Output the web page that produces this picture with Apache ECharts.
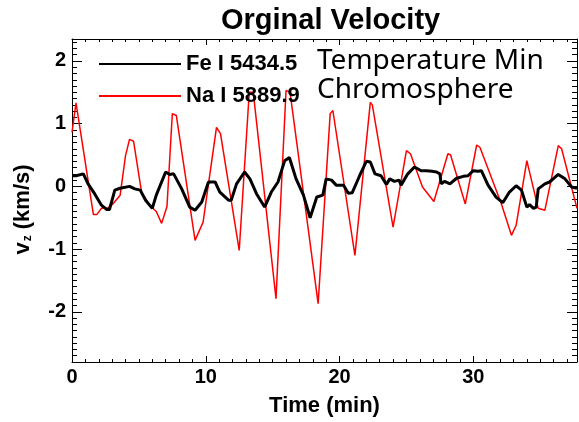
<!DOCTYPE html>
<html>
<head>
<meta charset="utf-8">
<script src="https://cdn.jsdelivr.net/npm/echarts@6/dist/echarts.min.js"></script>
<style>html,body{margin:0;padding:0;background:#fff}#c{width:579px;height:422px}</style>
</head>
<body>
<div id="c"></div>
<script>
// ---- data ----
const feTime = [0,0.3,0.85,1.2,1.7,2.2,2.6,2.8,3.2,3.6,4.3,4.7,5.1,5.5,6.0,6.3,7.0,7.3,7.6,8.2,8.8,9.2,9.7,10.2,10.7,11.05,11.7,11.9,12.3,12.9,13.3,13.8,14.4,14.9,15.4,15.9,16.25,16.75,17.3,17.8,18.3,18.75,19.0,19.4,19.75,20.3,20.65,20.95,21.5,22.0,22.3,22.65,23.1,23.5,23.75,24.1,24.45,24.6,25.1,25.6,26.1,26.5,26.9,27.25,27.5,27.6,27.85,28.25,28.75,29.25,29.6,30.0,30.35,30.6,31.1,31.7,32.2,32.7,33.2,33.6,34.0,34.2,34.5,34.7,34.85,35.35,35.7,36.35,36.85,37.35,37.75];
const feVel  = [0.17,0.17,0.20,0.04,-0.12,-0.30,-0.37,-0.37,-0.06,-0.03,0.00,-0.04,-0.06,-0.22,-0.35,-0.14,0.23,0.19,0.20,-0.04,-0.33,-0.38,-0.25,0.07,0.07,-0.09,-0.22,-0.22,0.04,0.23,0.12,-0.12,-0.33,-0.09,0.07,0.41,0.46,0.12,-0.14,-0.50,-0.17,-0.14,0.12,0.10,0.02,0.02,-0.11,-0.10,0.17,0.40,0.39,0.20,0.17,0.03,0.12,0.08,0.10,0.02,0.20,0.31,0.25,0.25,0.24,0.23,0.20,0.04,0.08,0.04,0.13,0.16,0.17,0.25,0.24,0.25,0.02,-0.17,-0.26,-0.09,0.01,-0.06,-0.33,-0.29,-0.35,-0.33,-0.04,0.04,0.07,0.19,0.12,-0.01,-0.03];
const naTime = [0,0.3,1.6,1.85,2.2,2.7,3.1,3.6,4.0,4.3,4.6,5.2,5.8,6.3,6.7,7.1,7.5,7.8,9.2,9.8,10.8,11.1,12.5,13.25,13.55,15.25,16.0,16.3,18.4,19.3,19.5,21.15,22.3,22.45,24.0,25.0,25.3,26.2,27.05,28.1,28.3,29.4,30.25,30.5,32.1,32.85,33.2,34.0,34.85,35.35,36.35,36.6,37.75];
const naVel  = [0.86,1.33,-0.45,-0.45,-0.35,-0.34,-0.27,-0.14,0.49,0.75,0.72,-0.09,-0.30,-0.40,-0.59,-0.32,1.16,1.13,-0.86,-0.57,0.94,0.84,-1.02,1.50,1.50,-1.79,1.53,1.50,-1.87,1.16,1.21,-1.10,1.34,1.30,-0.65,0.57,0.52,-0.01,-0.24,0.52,0.50,-0.28,0.66,0.62,-0.28,-0.78,-0.62,0.41,-0.35,-0.38,0.65,0.60,-0.35];
const seriesNames = ['Fe I 5434.5', 'Na I 5889.9'];
const yMajorTicks = [-2, -1, 0, 1, 2];
const xRange = [0, 37.75];
const yRange = [-2.8, 2.35];
const titleText = 'Orginal Velocity';
const annotations = ['Temperature Min', 'Chromosphere'];

const zip = (a, b) => a.map((t, i) => [t, b[i]]);
const FONT = 'Liberation Sans, Arial, sans-serif';
const axisLine = { show: true, onZero: false, lineStyle: { color: '#000', width: 1 } };

function yAxisPair(pos, withLabels) {
  return [
    {
      type: 'value', position: pos, min: yRange[0], max: yRange[1], interval: 0.1,
      axisLine: axisLine, splitLine: { show: false },
      axisTick: { show: true, inside: true, length: 5, lineStyle: { color: '#000' } },
      axisLabel: withLabels ? {
        show: true, margin: 6, color: '#000', fontWeight: 'bold', fontSize: 20, fontFamily: FONT,
        showMinLabel: false, showMaxLabel: false,
        formatter: v => Math.abs(v - Math.round(v)) < 1e-6 ? String(Math.round(v)) : ''
      } : { show: false },
      name: withLabels ? '{v|v}{s|z}{t| (km/s)}' : '',
      nameLocation: 'middle', nameGap: 38, nameRotate: 90,
      nameTextStyle: {
        color: '#000', fontWeight: 'bold', fontSize: 22, fontFamily: FONT,
        padding: [0, 18, 0, 0],
        rich: {
          v: { fontSize: 22, fontWeight: 'bold', fontFamily: FONT, color: '#000' },
          s: { fontSize: 12, fontWeight: 'bold', fontFamily: FONT, color: '#000', verticalAlign: 'bottom', padding: [10, 0, 0, 1] },
          t: { fontSize: 22, fontWeight: 'bold', fontFamily: FONT, color: '#000' }
        }
      }
    },
    {
      type: 'value', position: pos, min: yRange[0], max: yRange[1],
      axisLine: { show: false, onZero: false }, splitLine: { show: false },
      axisTick: { show: true, inside: true, length: 10, customValues: yMajorTicks, lineStyle: { color: '#000' } },
      axisLabel: { show: false }
    }
  ];
}

function xAxisDef(pos, withLabels) {
  return {
    type: 'value', position: pos, min: xRange[0], max: xRange[1], interval: 10,
    axisLine: axisLine, splitLine: { show: false },
    axisTick: { show: true, inside: true, length: 6, lineStyle: { color: '#000' } },
    minorTick: { show: true, splitNumber: 10, length: 3, lineStyle: { color: '#000' } },
    minorSplitLine: { show: false },
    axisLabel: withLabels ? { show: true, margin: 5, color: '#000', fontWeight: 'bold', fontSize: 20, fontFamily: FONT, showMaxLabel: false } : { show: false },
    name: withLabels ? 'Time (min)' : '',
    nameLocation: 'middle', nameGap: 33,
    nameTextStyle: { color: '#000', fontWeight: 'bold', fontSize: 22, fontFamily: FONT }
  };
}

const chart = echarts.init(document.getElementById('c'), null, { renderer: 'canvas' });
chart.setOption({
  animation: false,
  backgroundColor: '#fff',
  title: {
    text: titleText, left: 216, top: 1,
    textStyle: { color: '#000', fontWeight: 'bold', fontSize: 29, fontFamily: FONT }
  },
  legend: {
    orient: 'vertical', left: 93, top: 48, itemWidth: 82, itemHeight: 14, itemGap: 10,
    data: seriesNames,
    itemStyle: { opacity: 0 },
    textStyle: { color: '#000', fontWeight: 'bold', fontSize: 22, fontFamily: FONT }
  },
  graphic: [
    { type: 'text', left: 317, top: 47, style: { text: annotations[0], fill: '#000', font: '28px "Noto Sans", sans-serif' } },
    { type: 'text', left: 317, top: 76, style: { text: annotations[1], fill: '#000', font: '28px "Noto Sans", sans-serif' } }
  ],
  grid: { left: 72, right: 2, top: 39, bottom: 59, containLabel: false },
  xAxis: [xAxisDef('bottom', true), xAxisDef('top', false)],
  yAxis: [...yAxisPair('left', true), ...yAxisPair('right', false)],
  series: [
    { name: seriesNames[0], type: 'line', xAxisIndex: 0, yAxisIndex: 0, data: zip(feTime, feVel),
      showSymbol: false, symbol: 'none', z: 4, lineStyle: { color: '#000', width: 3 }, itemStyle: { color: '#000' } },
    { name: seriesNames[1], type: 'line', xAxisIndex: 0, yAxisIndex: 0, data: zip(naTime, naVel),
      showSymbol: false, symbol: 'none', z: 3, lineStyle: { color: '#ff0000', width: 1.5 }, itemStyle: { color: '#ff0000' } }
  ]
});
</script>
</body>
</html>
